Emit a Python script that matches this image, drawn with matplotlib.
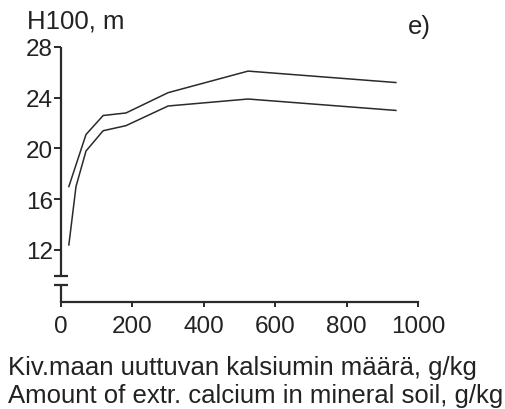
import matplotlib
matplotlib.use("Agg")
import matplotlib.pyplot as plt

plt.rcParams['font.family'] = ['Liberation Sans', 'DejaVu Sans']

# Data
x_upper = [22, 70, 118, 182, 300, 524, 938]
y_upper = [17.0, 21.1, 22.6, 22.8, 24.4, 26.1, 25.2]
x_lower = [22, 42, 70, 118, 182, 300, 524, 938]
y_lower = [12.4, 17.0, 19.8, 21.4, 21.8, 23.35, 23.9, 23.0]

xticks = [0, 200, 400, 600, 800, 1000]
yticks = [12, 16, 20, 24, 28]

ylabel_text = "H100, m"
panel_text = "e)"
xlabel_fi = "Kiv.maan uuttuvan kalsiumin määrä, g/kg"
xlabel_en = "Amount of extr. calcium in mineral soil, g/kg"

W, H = 506, 410
fig = plt.figure(figsize=(W / 100, H / 100), dpi=100)
ax = fig.add_axes([61 / W, 1 - 303 / H, (418 - 61) / W, (303 - 48) / H])

col = "#2a2a2a"
ax.plot(x_upper, y_upper, color=col, lw=1.1)
ax.plot(x_lower, y_lower, color=col, lw=1.1)

ax.set_xlim(0, 1000)
ax.set_ylim(7.9, 28)

for s in ["top", "right", "left"]:
    ax.spines[s].set_visible(False)
ax.spines["bottom"].set_color(col)
ax.spines["bottom"].set_linewidth(1.6)

# broken y axis drawn manually
yb_top, yb_bot = 9.94, 9.23
ax.plot([0, 0], [28, yb_top], color=col, lw=1.6, clip_on=False, solid_capstyle="butt")
ax.plot([0, 0], [yb_bot, 7.9], color=col, lw=1.6, clip_on=False, solid_capstyle="butt")
for yb in (yb_top, yb_bot):
    ax.plot([-20, 19], [yb, yb], color=col, lw=1.6, clip_on=False, solid_capstyle="butt")

ax.set_xticks(xticks)
ax.set_yticks(yticks)
ax.tick_params(axis="y", direction="out", length=5, width=1.4, color=col,
               labelsize=17.5, pad=1, labelcolor="#222222")
ax.tick_params(axis="x", direction="out", length=3.5, width=1.4, color=col,
               labelsize=17.5, pad=6, labelcolor="#222222")

fs = 18.5
fig.text(27 / W, 1 - 29 / H, ylabel_text, fontsize=fs, color="#222222",
         ha="left", va="baseline")
fig.text(408 / W, 1 - 34 / H, panel_text, fontsize=fs, color="#222222",
         ha="left", va="baseline")
fig.text(8 / W, 1 - 375 / H, xlabel_fi, fontsize=fs, color="#222222",
         ha="left", va="baseline")
fig.text(8 / W, 1 - 403 / H, xlabel_en, fontsize=fs, color="#222222",
         ha="left", va="baseline")

fig.savefig("out.png", dpi=100)
